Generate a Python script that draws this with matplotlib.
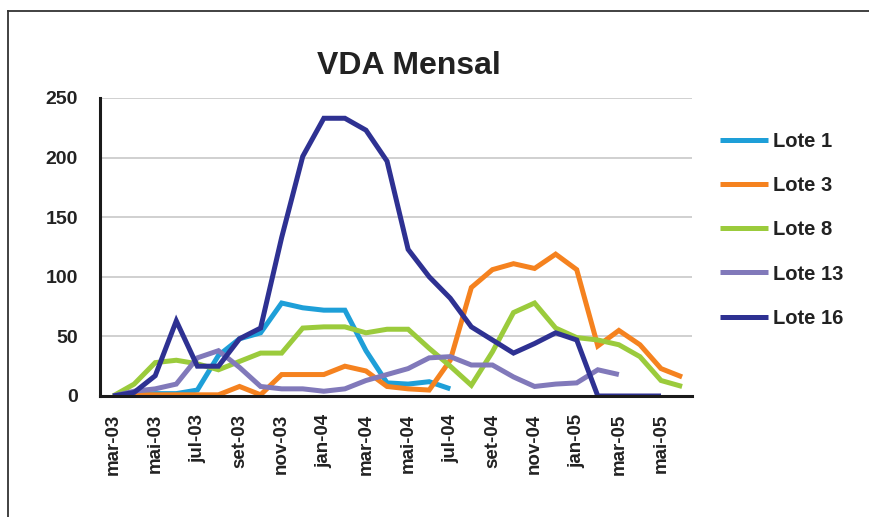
import matplotlib
matplotlib.use('Agg')
import matplotlib.pyplot as plt
from matplotlib.lines import Line2D
import numpy as np

plt.rcParams['font.family'] = ['Liberation Sans', 'DejaVu Sans']

# monthly categories mar-03 .. jun-05
months = ['mar-03', 'abr-03', 'mai-03', 'jun-03', 'jul-03', 'ago-03', 'set-03', 'out-03',
          'nov-03', 'dez-03', 'jan-04', 'fev-04', 'mar-04', 'abr-04', 'mai-04', 'jun-04',
          'jul-04', 'ago-04', 'set-04', 'out-04', 'nov-04', 'dez-04', 'jan-05', 'fev-05',
          'mar-05', 'abr-05', 'mai-05', 'jun-05']

lote1 = [0, 1, 2, 2, 5, 34, 48, 53, 78, 74, 72, 72, 38, 11, 10, 12, 6]
lote3 = [0, 1, 1, 1, 1, 1, 8, 1, 18, 18, 18, 25, 21, 8, 6, 5, 30, 91, 106, 111,
         107, 119, 106, 42, 55, 43, 23, 16]
lote8 = [0, 10, 28, 30, 27, 22, 29, 36, 36, 57, 58, 58, 53, 56, 56, 40, 25, 9, 37,
         70, 78, 57, 49, 47, 43, 33, 13, 8]
lote13 = [0, 4, 6, 10, 32, 38, 24, 8, 6, 6, 4, 6, 13, 18, 23, 32, 33, 26, 26, 16,
          8, 10, 11, 22, 18]
lote16 = [0, 3, 17, 63, 25, 25, 48, 57, 133, 201, 233, 233, 223, 197, 123, 100, 82,
          58, 47, 36, 44, 53, 47, 0, 0, 0, 0]

series = [('Lote 1', lote1, '#1E9FD8'),
          ('Lote 3', lote3, '#F5821F'),
          ('Lote 8', lote8, '#9BCB3C'),
          ('Lote 13', lote13, '#8179BA'),
          ('Lote 16', lote16, '#2E3192')]

fig = plt.figure(figsize=(8.7, 5.17), dpi=100)
fig.patch.set_facecolor('white')
ax = fig.add_axes([100 / 870, 1 - 396 / 517, 592 / 870, 298 / 517])

x = np.arange(len(months))
for name, vals, col in series:
    ax.plot(x[:len(vals)], vals, color=col, lw=3.6, label=name,
            solid_joinstyle='miter', solid_capstyle='butt')

ax.set_xlim(-0.62, len(months) - 0.53)
ax.set_ylim(0, 250)
ax.set_yticks(range(0, 251, 50))
ax.set_xticks(x[::2])
ax.set_xticklabels(months[::2], rotation=90, fontsize=13.5, fontweight='bold', color='#222222')
ax.tick_params(axis='y', length=0, pad=16, labelsize=14, labelcolor='#222222')
ax.tick_params(axis='x', length=0, pad=13)
for lab in ax.get_yticklabels():
    lab.set_fontweight('bold')

ax.grid(axis='y', color='#c8c8c8', lw=1.2)
ax.set_axisbelow(True)
for s in ['top', 'right']:
    ax.spines[s].set_visible(False)
ax.spines['left'].set_linewidth(2.2)
ax.spines['bottom'].set_linewidth(2.2)
ax.spines['left'].set_color('#1a1a1a')
ax.spines['bottom'].set_color('#1a1a1a')

fig.text(409 / 870, 1 - 66 / 517, 'VDA Mensal', ha='center', va='center',
         fontsize=23, fontweight='bold', color='#222222')

leg = fig.legend(loc='upper left', bbox_to_anchor=(720 / 870, 1 - 132 / 517),
                 frameon=False, fontsize=14.5, handlelength=2.4, handletextpad=0.25,
                 labelspacing=1.25, borderpad=0, borderaxespad=0)
for t in leg.get_texts():
    t.set_fontweight('bold')
    t.set_color('#222222')

# outer frame (top and left edges)
fig.add_artist(Line2D([8 / 870, 1], [1 - 11 / 517, 1 - 11 / 517], transform=fig.transFigure,
                      color='#333333', lw=1.3))
fig.add_artist(Line2D([8 / 870, 8 / 870], [0, 1 - 11 / 517], transform=fig.transFigure,
                      color='#333333', lw=1.3))

fig.savefig('out.png', dpi=100)
